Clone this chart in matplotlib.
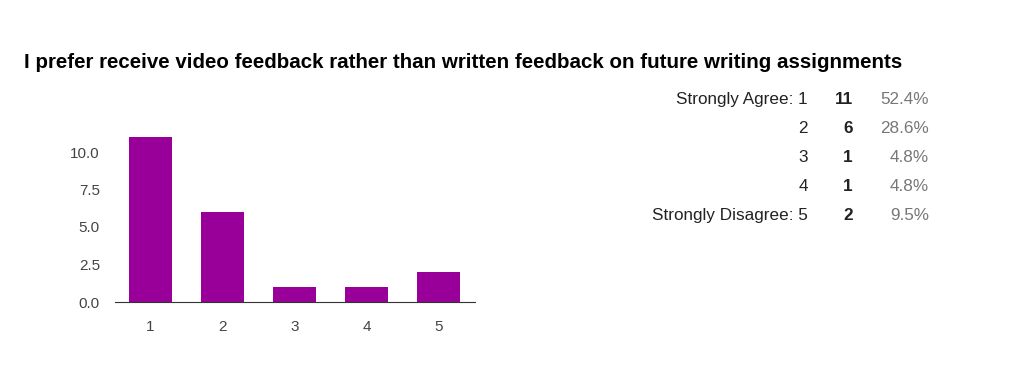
import matplotlib.pyplot as plt

plt.rcParams['font.family'] = ['Liberation Sans', 'DejaVu Sans']

answers = [1, 2, 3, 4, 5]
labels = ['Strongly Agree: 1', '2', '3', '4', 'Strongly Disagree: 5']
counts = [11, 6, 1, 1, 2]
percents = ['52.4%', '28.6%', '4.8%', '4.8%', '9.5%']
yticks = [0.0, 2.5, 5.0, 7.5, 10.0]

W, H = 1024, 369
fig = plt.figure(figsize=(W/100, H/100), dpi=100)

fig.text(24/W, 1 - 62/H, 'I prefer receive video feedback rather than written feedback on future writing assignments',
         fontsize=14.8, fontweight='bold', color='#000000', va='center', ha='left')

ax = fig.add_axes([114.5/W, 1 - 302/H, 360/W, 180/H])
ax.bar(answers, counts, width=0.6, color='#990099')
ax.set_xlim(0.5, 5.5)
ax.set_ylim(0, 12)
ax.set_xticks(answers)
ax.set_yticks(yticks)
ax.set_yticklabels(['{:.1f}'.format(v) for v in yticks])
for s in ['top', 'right', 'left']:
    ax.spines[s].set_visible(False)
ax.spines['bottom'].set_color('#333333')
ax.tick_params(length=0, labelsize=11, labelcolor='#444444')
ax.tick_params(axis='x', pad=13)
ax.tick_params(axis='y', pad=10.5)

# summary table on the right
for i in range(len(answers)):
    y = 1 - (104 + 29*i)/H
    fig.text(808/W, y, labels[i], ha='right', va='baseline', fontsize=12.3, color='#222222')
    fig.text(853/W, y, str(counts[i]), ha='right', va='baseline', fontsize=12.3, fontweight='bold', color='#222222')
    fig.text(929/W, y, percents[i], ha='right', va='baseline', fontsize=12.3, color='#777777')

fig.savefig('out.png', dpi=100)
